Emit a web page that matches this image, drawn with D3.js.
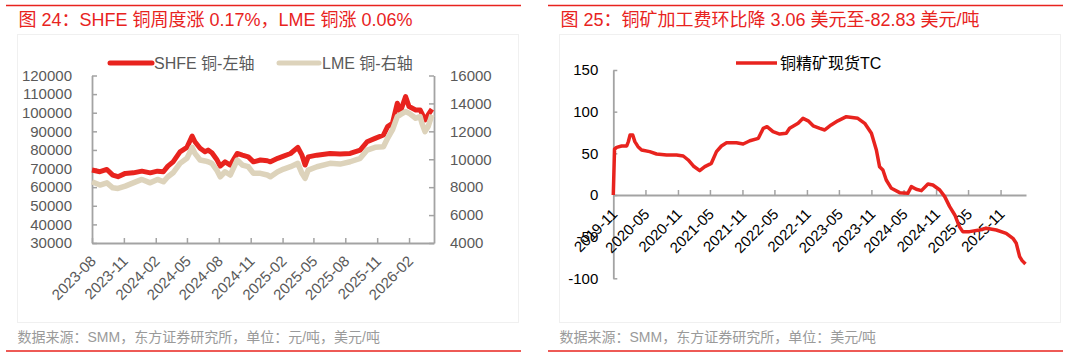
<!DOCTYPE html>
<html>
<head>
<meta charset="UTF-8">
<title>铜价与TC</title>
<script src="https://cdn.jsdelivr.net/npm/d3@7"></script>
<style>
body { margin: 0; background: #fff; }
svg { display: block; font-family: "Liberation Sans", Arial, "Noto Sans CJK SC", sans-serif; }
</style>
</head>
<body>
<script>
// 图24 数据：SHFE 铜（元/吨，左轴），LME 铜（美元/吨，右轴）
var cuDates = ["2023-08-01","2023-08-24","2023-09-13","2023-09-30","2023-10-15","2023-11-05","2023-11-28","2023-12-23",
  "2024-01-16","2024-02-06","2024-02-23","2024-03-07","2024-03-22","2024-04-11","2024-05-01","2024-05-16","2024-05-24",
  "2024-06-08","2024-06-22","2024-07-01","2024-07-12","2024-07-26","2024-08-05","2024-08-19","2024-09-03","2024-09-23",
  "2024-10-08","2024-10-25","2024-11-09","2024-11-29","2024-12-19","2024-12-28","2025-01-18","2025-02-04","2025-02-24",
  "2025-03-17","2025-03-29","2025-04-07","2025-04-16","2025-05-11","2025-06-18","2025-07-17","2025-08-15","2025-09-13",
  "2025-10-03","2025-10-26","2025-11-19","2025-12-01","2025-12-15","2025-12-29","2026-01-07","2026-01-22","2026-02-01",
  "2026-02-20","2026-03-05","2026-03-10","2026-03-19","2026-03-28","2026-04-08"];
var shfe = [69200,68300,69500,66500,65600,67400,67700,68600,
  67700,68600,68300,71300,73600,79000,81400,87500,84400,
  80900,79000,79900,78500,74900,71300,73600,71900,78100,
  77200,76300,73600,74600,74200,73600,75500,76700,78100,
  81400,77200,71900,76300,77200,78100,77800,78100,79900,
  84400,86200,88000,92500,94300,105100,100600,108700,103300,
  101500,101500,99700,96100,98800,101900];
var lme = [8385,8150,8310,7955,7910,8075,8310,8555,
  8310,8555,8385,8745,9030,9705,10065,10855,10425,
  9945,9880,9820,9705,9225,8745,9105,8870,9945,
  9585,9465,8990,8990,8870,8745,9105,9300,9465,
  9705,8990,8630,9225,9465,9705,9655,9820,10065,
  10660,10855,10900,11500,12100,13055,13200,13415,13300,
  12940,13055,12600,11980,12335,13180];
var cuTicks = ["2023-08","2023-11","2024-02","2024-05","2024-08","2024-11","2025-02","2025-05","2025-08","2025-11","2026-02"];
var shfeTicks = [30000,40000,50000,60000,70000,80000,90000,100000,110000,120000];
var lmeTicks = [4000,6000,8000,10000,12000,14000,16000];

// 图25 数据：铜精矿现货TC（美元/吨）
var tcDates = ["2019-11-01","2019-11-08","2019-11-20","2019-12-18","2020-01-16","2020-01-25","2020-02-04","2020-02-19",
  "2020-03-02","2020-03-20","2020-04-09","2020-05-25","2020-07-03","2020-08-29","2020-10-24","2020-12-01","2020-12-29",
  "2021-01-27","2021-03-04","2021-04-02","2021-05-09","2021-06-07","2021-07-05","2021-08-03","2021-09-28","2021-11-05",
  "2021-12-13","2022-01-30","2022-02-27","2022-03-20","2022-04-23","2022-05-31","2022-07-07","2022-07-26","2022-09-12",
  "2022-10-10","2022-11-08","2022-12-06","2023-01-13","2023-02-10","2023-03-18","2023-04-25","2023-06-12","2023-08-16",
  "2023-09-24","2023-11-01","2023-11-29","2023-12-17","2024-01-05","2024-01-24","2024-02-22","2024-04-09","2024-05-25",
  "2024-06-14","2024-07-12","2024-08-10","2024-09-16","2024-10-14","2024-11-22","2024-12-20","2025-01-17","2025-02-15",
  "2025-03-13","2025-04-01","2025-05-09","2025-07-05","2025-08-12","2025-10-08","2025-12-03","2026-01-10","2026-01-29",
  "2026-02-17","2026-03-03","2026-03-22"];
var tcValues = [0,55,57.2,58.8,58.8,63.9,72,72,
  64,58,54,52,49.2,48,48,46.8,42,
  34.8,29.2,34,38,52,58.8,62.7,62.7,61.2,
  65.1,68,80,82,76,73.1,74,80,86,
  92,89,83,80,78,84,89,94,92,
  86,74,54,34,30,18,8,2.8,2,
  10,6.8,5.2,13.2,12,6,-2,-14,-24,
  -38,-44,-44,-42,-40,-42,-46,-52,-58,
  -74,-78.8,-82.83];
var tcTicks = ["2019-11","2020-05","2020-11","2021-05","2021-11","2022-05","2022-11","2023-05","2023-11","2024-05","2024-11","2025-05","2025-11"];
var tcYTicks = [-100,-50,0,50,100,150];

var RED = "#e8231e", BEIGE = "#ddd3bb", AXIS = "#a3a3a3";
var parseDay = d3.timeParse("%Y-%m-%d"), parseMonth = d3.timeParse("%Y-%m");

var svg = d3.select("body").append("svg")
    .attr("width", 1068)
    .attr("height", 354);

// 外框线、标题、来源
function frame(x0, x1, title, source) {
  svg.append("line").attr("x1", x0).attr("x2", x1).attr("y1", 5.5).attr("y2", 5.5)
      .attr("stroke", RED).attr("stroke-width", 1.5);
  svg.append("line").attr("x1", x0).attr("x2", x1).attr("y1", 351).attr("y2", 351)
      .attr("stroke", RED).attr("stroke-width", 1.5);
  svg.append("rect").attr("x", x0 + 11.5).attr("y", 34.5).attr("width", x1 - x0 - 14).attr("height", 288)
      .attr("fill", "none").attr("stroke", "#f0f0f0");
  svg.append("text").attr("x", x0 + 12.5).attr("y", 26).attr("fill", RED)
      .attr("font-size", 18).text(title);
  svg.append("text").attr("x", x0 + 11.5).attr("y", 342).attr("fill", "#9a9a9a")
      .attr("font-size", 14).text(source);
}
frame(6, 521, "图 24：SHFE 铜周度涨 0.17%，LME 铜涨 0.06%", "数据来源：SMM，东方证券研究所，单位：元/吨，美元/吨");
frame(548, 1063, "图 25：铜矿加工费环比降 3.06 美元至-82.83 美元/吨", "数据来源：SMM，东方证券研究所，单位：美元/吨");

function styleAxis(g, color) {
  g.select(".domain").attr("stroke", AXIS).attr("stroke-width", 1.8);
  g.selectAll(".tick line").attr("stroke", AXIS).attr("stroke-width", 1.5);
  g.selectAll("text").attr("fill", color).attr("font-size", 15).attr("font-family", null);
}

// ---------- 左图 ----------
var xL = d3.scaleTime().domain([parseDay("2023-08-01"), parseDay("2026-04-14")]).range([92, 434]);
var yL = d3.scaleLinear().domain([30000, 120000]).range([243, 75.5]);
var yR = d3.scaleLinear().domain([4000, 16000]).range([243, 75.5]);

var left = svg.append("g");
left.append("g").attr("transform", "translate(92,0)")
    .call(d3.axisLeft(yL).tickValues(shfeTicks).tickSize(-5).tickSizeOuter(0).tickPadding(20).tickFormat(String))
    .call(styleAxis, "#595959");
left.append("g").attr("transform", "translate(434,0)")
    .call(d3.axisRight(yR).tickValues(lmeTicks).tickSize(-5).tickSizeOuter(0).tickPadding(16).tickFormat(String))
    .call(styleAxis, "#595959");
left.append("g").attr("transform", "translate(0,243)")
    .call(d3.axisBottom(xL).tickValues(cuTicks.map(parseMonth)).tickSize(-5).tickSizeOuter(0).tickFormat(""))
    .call(styleAxis, "#595959");
left.selectAll(".cuLab").data(cuTicks).enter().append("text")
    .attr("class", "cuLab")
    .attr("transform", function (d) { return "translate(" + (xL(parseMonth(d)) + 5) + ",262) rotate(-45)"; })
    .attr("text-anchor", "end")
    .attr("font-size", 15).attr("fill", "#595959")
    .text(function (d) { return d; });

var cu = cuDates.map(function (d, i) { return { date: parseDay(d), s: shfe[i], l: lme[i] }; });
left.append("path").datum(cu)
    .attr("fill", "none").attr("stroke", RED).attr("stroke-width", 5).attr("stroke-linejoin", "round")
    .attr("d", d3.line().x(function (d) { return xL(d.date); }).y(function (d) { return yL(d.s); }));
left.append("path").datum(cu)
    .attr("fill", "none").attr("stroke", BEIGE).attr("stroke-width", 5.5).attr("stroke-linejoin", "round")
    .attr("d", d3.line().x(function (d) { return xL(d.date); }).y(function (d) { return yR(d.l); }));

// 图例
left.append("line").attr("x1", 110).attr("x2", 152).attr("y1", 63).attr("y2", 63)
    .attr("stroke", RED).attr("stroke-width", 5).attr("stroke-linecap", "round");
left.append("text").attr("x", 154).attr("y", 68.5).attr("font-size", 16).attr("fill", "#595959").text("SHFE 铜-左轴");
left.append("line").attr("x1", 279).attr("x2", 319).attr("y1", 63).attr("y2", 63)
    .attr("stroke", BEIGE).attr("stroke-width", 5).attr("stroke-linecap", "round");
left.append("text").attr("x", 322).attr("y", 68.5).attr("font-size", 16).attr("fill", "#595959").text("LME 铜-右轴");

// ---------- 右图 ----------
var xT = d3.scaleTime().domain([parseDay("2019-11-01"), parseDay("2026-03-25")]).range([613.3, 1026]);
var yT = d3.scaleLinear().domain([-100, 150]).range([278.3, 70]);

var right = svg.append("g");
right.append("g").attr("transform", "translate(613.3,0)")
    .call(d3.axisLeft(yT).tickValues(tcYTicks).tickSize(-4).tickSizeOuter(0).tickPadding(15).tickFormat(String))
    .call(styleAxis, "#000");
right.append("g").attr("transform", "translate(0," + yT(0) + ")")
    .call(d3.axisBottom(xT).tickValues(tcTicks.map(parseMonth)).tickSize(-5).tickSizeOuter(0).tickFormat(""))
    .call(styleAxis, "#000");
right.selectAll(".tcLab").data(tcTicks).enter().append("text")
    .attr("class", "tcLab")
    .attr("transform", function (d) { return "translate(" + (xT(parseMonth(d)) + 5) + "," + (yT(0) + 20) + ") rotate(-45)"; })
    .attr("text-anchor", "end")
    .attr("font-size", 15).attr("fill", "#000")
    .text(function (d) { return d; });

var tc = tcDates.map(function (d, i) { return { date: parseDay(d), v: tcValues[i] }; });
right.append("path").datum(tc)
    .attr("fill", "none").attr("stroke", RED).attr("stroke-width", 3.5).attr("stroke-linejoin", "round")
    .attr("d", d3.line().x(function (d) { return xT(d.date); }).y(function (d) { return yT(d.v); }));

right.append("line").attr("x1", 736).attr("x2", 777).attr("y1", 63).attr("y2", 63)
    .attr("stroke", RED).attr("stroke-width", 3.5);
right.append("text").attr("x", 780).attr("y", 68.5).attr("font-size", 16).attr("fill", "#000").text("铜精矿现货TC");
</script>
</body>
</html>
